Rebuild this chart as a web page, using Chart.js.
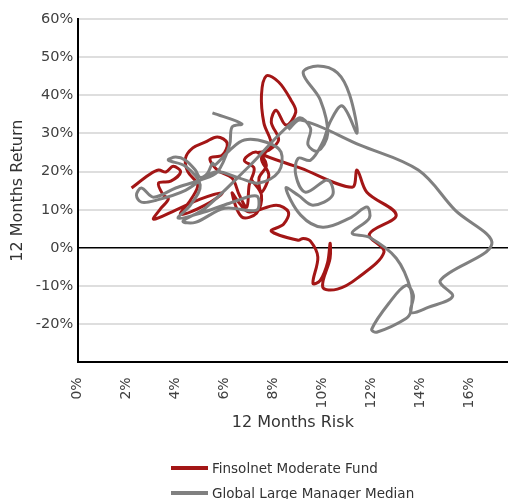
<!DOCTYPE html>
<html>
<head>
<meta charset="utf-8">
<script src="https://cdn.jsdelivr.net/npm/chart.js@4.4.1/dist/chart.umd.min.js"></script>
<style>
  html, body { margin: 0; padding: 0; background: #fff; }
  #wrap { position: relative; width: 508px; height: 499px; }
  #legend { position: absolute; left: 171px; top: 455px; font: 13.5px "DejaVu Sans", Verdana, sans-serif; color: #333; }
  .item { display: flex; align-items: center; height: 25px; }
  .swatch { width: 37px; height: 4px; margin-right: 4px; }
</style>
</head>
<body>
<div id="wrap">
  <canvas id="chart" width="508" height="499"></canvas>
  <div id="legend"></div>
</div>
<script>
// series names
const seriesNames = ["Finsolnet Moderate Fund", "Global Large Manager Median"];

// Finsolnet Moderate Fund: 12m risk (%) / 12m return (%)
const fundRisk = [2.2, 2.9, 3.3, 3.6, 3.9, 4.2, 3.8, 3.3, 3.5, 3.7, 3.4, 3.1, 4.0, 5.0, 5.9, 5.2, 4.2, 4.6, 4.9, 4.5,
  4.4, 4.7, 5.2, 5.7, 6.1, 5.9, 5.4, 5.7, 6.3, 6.6, 6.9, 7.0, 7.2, 6.8, 7.3, 7.7, 7.4, 7.5, 7.8, 7.5,
  7.9, 7.6, 7.5, 7.7, 8.2, 8.7, 8.9, 8.5, 8.1, 7.9, 8.2, 7.8, 7.4, 9.1, 11.2, 11.4, 11.8, 13.0, 11.9, 12.5,
  11.4, 10.6, 10.0, 10.3, 10.3, 10.2, 9.9, 9.6, 9.8, 9.5, 9.2, 9.0, 7.9, 8.4, 8.6, 8.1, 7.0, 6.6,
  6.3, 6.7, 7.3, 7.5, 7.1];
const fundReturn = [15.7, 19.1, 20.4, 19.9, 21.4, 19.9, 17.5, 17.0, 13.8, 12.8, 10.4, 7.5, 9.9, 12.8, 14.4, 11.2, 8.8, 12.5, 16.5, 19.9,
  23.5, 26.2, 27.7, 29.1, 27.5, 24.3, 23.5, 20.4, 18.3, 13.8, 10.7, 16.5, 20.9, 23.0, 25.1, 21.7, 18.3, 14.6, 19.1, 23.5,
  27.0, 32.7, 40.1, 45.1, 43.5, 38.8, 35.6, 32.2, 36.1, 33.0, 28.3, 25.6, 24.9, 20.9, 15.9, 20.4, 14.6, 8.6, 3.6, -1.1,
  -8.0, -10.8, -10.3, -2.7, 1.2, -3.8, -8.5, -9.3, -2.4, 1.8, 2.5, 2.0, 4.4, 6.2, 9.4, 11.2, 9.4, 11.7,
  14.4, 8.1, 9.1, 13.8, 17.8];

// Global Large Manager Median: 12m risk (%) / 12m return (%)
const medianRisk = [5.5, 6.7, 6.3, 6.2, 5.7, 5.0, 4.0, 3.1, 2.6, 2.4, 2.6, 3.2, 4.4, 5.6, 6.6, 7.4, 8.2, 8.3, 7.7, 6.8,
  6.2, 5.6, 5.5, 5.3, 5.0, 4.8, 4.4, 4.0, 3.7, 4.4, 5.0, 4.6, 4.1, 5.0, 6.2, 7.3, 7.3, 6.0, 4.8, 4.3,
  5.2, 7.0, 9.0, 9.5, 9.4, 9.8, 10.2, 9.9, 9.2, 9.8, 10.6, 11.1, 11.4, 10.8, 10.3, 10.0, 9.5, 9.0, 8.9, 9.3,
  10.2, 10.4, 9.6, 9.0, 8.5, 9.1, 10.0, 11.1, 11.8, 11.9, 11.2, 11.9, 13.0, 13.6, 13.6, 13.4, 12.2, 12.0, 12.7, 13.4,
  13.7, 13.6, 14.3, 15.3, 14.8, 16.9, 15.4, 13.9, 11.5, 9.1, 8.6];
const medianReturn = [35.4, 32.5, 31.7, 27.0, 19.9, 17.8, 15.7, 13.3, 15.7, 13.8, 12.0, 12.5, 15.1, 19.9, 18.3, 17.0, 19.9, 25.1, 27.7, 28.3,
  25.6, 21.7, 22.2, 19.6, 18.5, 20.4, 23.0, 23.8, 23.0, 21.4, 16.5, 11.2, 7.8, 9.1, 11.7, 13.6, 9.9, 10.4, 6.7, 7.0,
  10.4, 21.4, 34.0, 31.4, 27.0, 25.4, 29.8, 38.8, 45.9, 47.7, 45.9, 40.1, 30.1, 37.2, 33.0, 27.7, 23.0, 23.5, 19.1, 14.6,
  17.8, 13.8, 11.2, 13.8, 15.7, 8.6, 5.4, 7.8, 10.7, 7.8, 3.9, 2.8, -2.7, -11.1, -16.4, -18.5, -22.1, -21.3, -14.5, -9.8,
  -12.4, -16.9, -15.6, -12.7, -8.5, 1.0, 9.9, 20.4, 27.0, 33.5, 31.0];

// axis ticks
const riskTicks = [0, 2, 4, 6, 8, 10, 12, 14, 16];
const returnTicks = [-20, -10, 0, 10, 20, 30, 40, 50, 60];

const seriesColors = ["#a31616", "#808080"];

const font = "'DejaVu Sans', Verdana, sans-serif";

function toPoints(xs, ys) {
  return xs.map((x, i) => ({ x: x, y: ys[i] }));
}

new Chart(document.getElementById("chart"), {
  type: "scatter",
  data: {
    datasets: [
      {
        label: seriesNames[0],
        data: toPoints(fundRisk, fundReturn),
        showLine: true,
        borderColor: seriesColors[0],
        borderWidth: 3,
        pointRadius: 0,
        tension: 0.35,
        order: 2
      },
      {
        label: seriesNames[1],
        data: toPoints(medianRisk, medianReturn),
        showLine: true,
        borderColor: seriesColors[1],
        borderWidth: 3,
        pointRadius: 0,
        tension: 0.35,
        order: 1
      }
    ]
  },
  options: {
    responsive: false,
    animation: false,
    layout: { padding: { left: 4, right: 0, top: 19, bottom: 67 } },
    plugins: {
      legend: { display: false },
      tooltip: { enabled: false }
    },
    scales: {
      x: {
        type: "linear",
        min: 0,
        max: 17.56,
        afterBuildTicks: axis => { axis.ticks = riskTicks.map(v => ({ value: v })); },
        border: { color: "#000", width: 2 },
        grid: { display: false, drawTicks: false },
        ticks: {
          minRotation: 90,
          maxRotation: 90,
          padding: 15,
          color: "#404040",
          font: { family: font, size: 14 },
          callback: v => v + "%"
        },
        title: {
          display: true,
          text: "12 Months Risk",
          color: "#333",
          font: { family: font, size: 16 },
          padding: { top: -10.7, bottom: 0 }
        }
      },
      y: {
        min: -30,
        max: 60,
        afterBuildTicks: axis => { axis.ticks = [-30].concat(returnTicks).map(v => ({ value: v })); },
        border: { color: "#000", width: 2 },
        grid: {
          drawTicks: false,
          color: c => c.tick.value === 0 ? "#000" : "#dedede",
          lineWidth: c => c.tick.value === 0 ? 1.6 : 2
        },
        ticks: {
          padding: 4.5,
          color: "#404040",
          font: { family: font, size: 14.5 },
          callback: v => v === -30 ? "" : v + "%"
        },
        title: {
          display: true,
          text: "12 Months Return",
          color: "#333",
          font: { family: font, size: 16 },
          padding: { top: 4, bottom: 4 }
        }
      }
    }
  }
});

// legend
const legend = document.getElementById("legend");
seriesNames.forEach((name, i) => {
  const item = document.createElement("div");
  item.className = "item";
  const sw = document.createElement("span");
  sw.className = "swatch";
  sw.style.background = seriesColors[i];
  const txt = document.createElement("span");
  txt.textContent = name;
  item.appendChild(sw);
  item.appendChild(txt);
  legend.appendChild(item);
});
</script>
</body>
</html>
